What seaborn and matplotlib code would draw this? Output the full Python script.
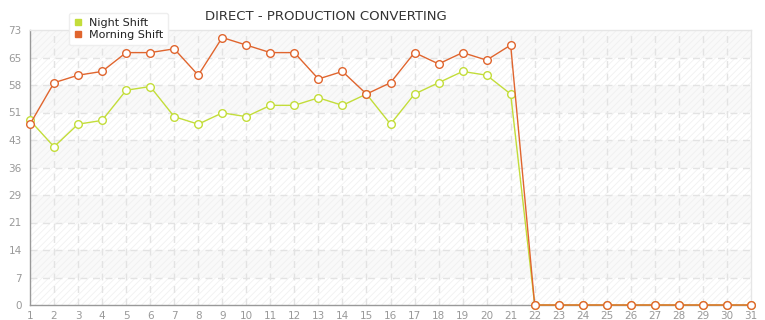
import matplotlib
matplotlib.use("Agg")
import matplotlib.pyplot as plt
import seaborn as sns
import pandas as pd
import numpy as np
from matplotlib.patches import Rectangle
from matplotlib.lines import Line2D

days = list(range(1, 32))
night_shift = [49, 42, 48, 49, 57, 58, 50, 48, 51, 50, 53, 53, 55, 53, 56, 48, 56, 59, 62, 61, 56,
               0, 0, 0, 0, 0, 0, 0, 0, 0, 0]
morning_shift = [48, 59, 61, 62, 67, 67, 68, 61, 71, 69, 67, 67, 60, 62, 56, 59, 67, 64, 67, 65, 69,
                 0, 0, 0, 0, 0, 0, 0, 0, 0, 0]
series_names = ["Night Shift", "Morning Shift"]
y_tick_values = [0, 7.3, 14.6, 21.9, 29.2, 36.5, 43.8, 51.1, 58.4, 65.7, 73]
y_tick_labels = ["0", "7", "14", "21", "29", "36", "43", "51", "58", "65", "73"]
title = "DIRECT - PRODUCTION CONVERTING"

colors = {"Night Shift": "#c3dd3a", "Morning Shift": "#e0652e"}

df = pd.DataFrame({
    "day": days * 2,
    "value": night_shift + morning_shift,
    "series": [series_names[0]] * len(days) + [series_names[1]] * len(days),
})

sns.set_style("white")
plt.rcParams['font.family'] = ['DejaVu Sans']
plt.rcParams['hatch.linewidth'] = 0.5

fig = plt.figure(figsize=(7.65, 3.2), dpi=100)
ax = fig.add_axes([30 / 765, 1 - 305 / 320, (751 - 30) / 765, (305 - 30) / 320])

ax.set_xlim(1, 31)
ax.set_ylim(0, 73)

# alternating bands
for i in range(len(y_tick_values) - 1):
    if i % 2 == 1:
        ax.axhspan(y_tick_values[i], y_tick_values[i + 1], color="#f9f9f9", zorder=0, lw=0)
# hatch
hatch = Rectangle((0, 0), 1, 1, transform=ax.transAxes, facecolor="none",
                  edgecolor="#efefef", hatch="/////", lw=0, zorder=0.5)
ax.add_patch(hatch)

# grid
for yv in y_tick_values[1:-1]:
    ax.axhline(yv, color="#e3e3e3", lw=1, ls=(0, (5, 4)), zorder=1)
for xv in days[1:-1]:
    ax.axvline(xv, color="#e3e3e3", lw=1, ls=(0, (5, 4)), zorder=1)

for name in series_names:
    sub = df[df["series"] == name]
    sns.lineplot(data=sub, x="day", y="value", ax=ax, color=colors[name], lw=1,
                 marker="o", markersize=5.5, markerfacecolor="white",
                 markeredgecolor=colors[name], markeredgewidth=1.0, zorder=3,
                 clip_on=False, label=name, legend=False)

ax.set_xticks(days)
ax.set_xticklabels([str(d) for d in days])
ax.set_yticks(y_tick_values)
ax.set_yticklabels(y_tick_labels)
ax.tick_params(axis="both", colors="#999999", labelcolor="#999999", labelsize=7.5,
               length=4, width=1, direction="out")
ax.tick_params(axis="x", pad=1, length=3)
ax.tick_params(axis="y", pad=2)
ax.set_xlabel("")
ax.set_ylabel("")

for side in ["left", "bottom"]:
    ax.spines[side].set_color("#999999")
    ax.spines[side].set_linewidth(1)
for side in ["top", "right"]:
    ax.spines[side].set_color("#e6e6e6")
    ax.spines[side].set_linewidth(1)
    ax.spines[side].set_visible(True)

fig.text(205 / 765, 1 - 17 / 320, title, fontsize=9.5, color="#333333",
         ha="left", va="center")

# legend
handles = [Line2D([0], [0], marker="s", color="none", markerfacecolor=colors[n],
                  markeredgecolor=colors[n], markersize=4) for n in series_names]
leg = fig.legend(handles, series_names, loc="upper left",
                 bbox_to_anchor=(63 / 765, 1 - 7 / 320), frameon=True, fontsize=8,
                 handlelength=0.8, handletextpad=0.6, labelspacing=0.2,
                 borderpad=0.45, fancybox=True)
leg.get_frame().set_edgecolor("#eeeeee")
leg.get_frame().set_facecolor("white")
leg.get_frame().set_alpha(1)
for t in leg.get_texts():
    t.set_color("#222222")

fig.savefig("out.png", dpi=100, facecolor="white")
